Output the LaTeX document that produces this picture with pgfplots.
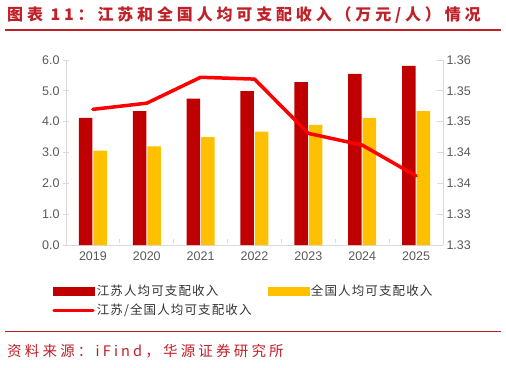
\documentclass[border=0pt]{standalone}
\usepackage{fontspec}
\setmainfont{Liberation Sans}
\usepackage{pgfplots}
\pgfplotsset{compat=1.18}
\newfontfamily\cjkt[LetterSpace=24]{Noto Sans CJK SC}
\newfontfamily\cjkl[LetterSpace=9]{Noto Sans CJK SC}
\newfontfamily\cjks[LetterSpace=22]{Noto Sans CJK SC}
\definecolor{jsred}{RGB}{192,0,0}
\definecolor{natyel}{RGB}{255,192,0}
\definecolor{linered}{RGB}{255,0,0}
\definecolor{titlered}{RGB}{192,32,40}
\definecolor{axgray}{RGB}{217,217,217}
\definecolor{lblgray}{RGB}{89,89,89}
\begin{document}
\begin{tikzpicture}[x=1pt,y=1pt]
\path[use as bounding box] (0,0) rectangle (506,367);
\node[anchor=west, inner sep=0, text=titlered, font=\cjkt\bfseries\fontsize{16}{18}\selectfont] at (7,352) {图表 11：江苏和全国人均可支配收入（万元/人）情况};
\draw[titlered, line width=1.2pt] (5,337) -- (501,337);
\draw[titlered, line width=1pt] (5,36) -- (501,36);
\node[anchor=west, inner sep=0, text=titlered, font=\cjks\fontsize{14.5}{16}\selectfont] at (7,16) {资料来源：iFind，华源证券研究所};

\begin{axis}[
  at={(66pt,122pt)}, anchor=south west, scale only axis, width=377pt, height=185pt,
  xmin=-0.5, xmax=6.5, ymin=0, ymax=6,
  axis x line*=bottom, axis y line*=left,
  axis line style={axgray, line width=0.8pt},
  xtick={0,1,2,3,4,5,6}, xticklabels={2019,2020,2021,2022,2023,2024,2025},
  major x tick style={draw=none},
  minor xtick={0.5,1.5,2.5,3.5,4.5,5.5},
  minor x tick style={axgray, line width=0.8pt, yshift=4pt},
  minor tick length=4pt,
  ytick={0,1,2,3,4,5,6},
  y tick style={axgray, line width=0.8pt},
  major tick length=6pt, tick align=center,
  /pgf/number format/assume math mode=true,
  yticklabel style={/pgf/number format/fixed, /pgf/number format/fixed zerofill, /pgf/number format/precision=1},
  ticklabel style={font=\fontsize{12.5}{14}\selectfont, text=lblgray},
  clip=false,
]
\addplot[ybar, bar width=13.5pt, bar shift=-7.25pt, fill=jsred, draw=none]
  coordinates {(0,4.12) (1,4.34) (2,4.75) (3,4.99) (4,5.28) (5,5.55) (6,5.81)};
\addplot[ybar, bar width=13.5pt, bar shift=7.25pt, fill=natyel, draw=none]
  coordinates {(0,3.06) (1,3.20) (2,3.50) (3,3.68) (4,3.90) (5,4.12) (6,4.34)};
\end{axis}

\begin{axis}[
  at={(66pt,122pt)}, anchor=south west, scale only axis, width=377pt, height=185pt,
  xmin=-0.5, xmax=6.5, ymin=1.325, ymax=1.355,
  axis x line=none, axis y line*=right,
  axis line style={axgray, line width=0.8pt},
  ytick={1.325,1.33,1.335,1.34,1.345,1.35,1.355},
  yticklabels={1.33,1.33,1.34,1.34,1.35,1.35,1.36},
  y tick style={axgray, line width=0.8pt},
  major tick length=6pt, tick align=inside,
  ticklabel style={font=\fontsize{12.5}{14}\selectfont, text=lblgray},
  legend columns=2,
  legend cell align=left,
  legend style={at={(axis description cs:-0.037,-0.205)}, anchor=north west,
    draw=none, fill=none, inner sep=0pt,
    font=\cjkl\fontsize{12.5}{14}\selectfont, text=black!80,
    row sep=3pt,
    /tikz/every even column/.append style={column sep=14pt}},
]
\addlegendimage{legend image code/.code={\fill[jsred] (0pt,-4pt) rectangle (41pt,4pt);}}
\addlegendentry{江苏人均可支配收入}
\addlegendimage{legend image code/.code={\fill[natyel] (0pt,-4pt) rectangle (41pt,4pt);}}
\addlegendentry{全国人均可支配收入}
\addplot[linered, line width=3.5pt, line cap=round, line join=round,
  legend image code/.code={\draw[linered, line width=3.5pt, line cap=round] (1pt,0pt) -- (40pt,0pt);}]
  coordinates {(0,1.3470) (1,1.3480) (2,1.3522) (3,1.3519) (4,1.3431) (5,1.3412) (6,1.3362)};
\addlegendentry{江苏/全国人均可支配收入}
\end{axis}
\end{tikzpicture}
\end{document}
